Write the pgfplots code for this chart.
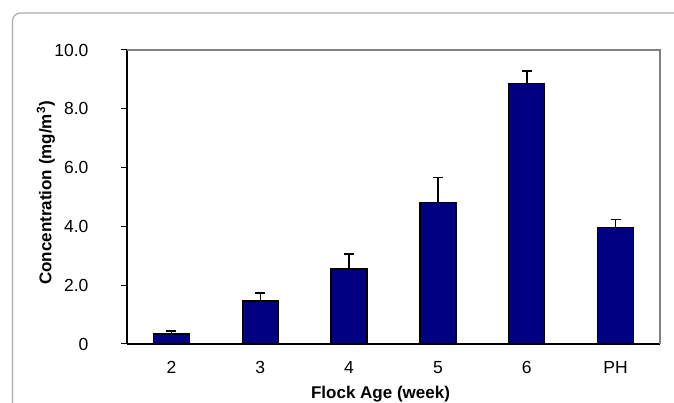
\documentclass[border=0pt]{standalone}
\usepackage{pgfplots}
\pgfplotsset{compat=1.18}
\usepackage{fontspec}
\setmainfont{Liberation Sans}
\definecolor{barnavy}{RGB}{0,0,128}
\definecolor{framegray}{RGB}{170,170,170}
\definecolor{boxgray}{RGB}{128,128,128}
\begin{document}
\begin{tikzpicture}[x=1pt,y=1pt]
\useasboundingbox (0,0) rectangle (674,403);
\begin{scope}
\clip (0,0) rectangle (674,403);
\draw[framegray, line width=1.2pt, rounded corners=8pt] (12.5,-20) -- (12.5,390) -- (700,390);
\end{scope}
\begin{axis}[
  at={(127pt,59pt)}, anchor=south west,
  width=533pt, height=294pt, scale only axis,
  xmin=-0.5, xmax=5.5, ymin=0, ymax=10,
  axis lines*=left,
  axis line style={black, line width=1.2pt},
  ybar, bar width=36pt,
  xtick={0,1,2,3,4,5},
  xticklabels={2,3,4,5,6,PH},
  x tick style={draw=none},
  extra x ticks={-0.5,0.5,1.5,2.5,3.5,4.5,5.5},
  extra x tick labels={},
  extra x tick style={tick style={draw=black, line width=1pt}, major tick length=6pt, tick align=outside},
  ytick={0,2,4,6,8,10},
  yticklabels={0,2.0,4.0,6.0,8.0,10.0},
  y tick style={black, line width=1pt},
  major tick length=6pt, tick align=outside,
  tick label style={font=\fontsize{17.5}{21}\selectfont},
  /pgf/number format/assume math mode=true,
  yticklabel style={xshift=-29pt},
  xticklabel style={yshift=-8pt},
  xlabel={\bfseries Flock Age (week)},
  ylabel={\bfseries Concentration (mg/m\textsuperscript{3})},
  label style={font=\fontsize{17}{20}\selectfont\bfseries},
  xlabel style={at={(axis description cs:0.5,0)}, anchor=center, yshift=-50pt, xshift=-13pt},
  ylabel style={at={(axis description cs:0,0.5)}, anchor=center, xshift=4pt, yshift=81pt},
  clip=false,
]
\addplot[fill=barnavy, draw=black, line width=1.2pt,
  error bars/.cd, y dir=plus, y explicit,
  error bar style={black, line width=1.5pt},
  error mark options={rotate=90, mark size=5pt, line width=1.5pt}]
  coordinates {
  (0,0.34) +- (0,0.10)
  (1,1.46) +- (0,0.28)
  (2,2.55) +- (0,0.51)
  (3,4.81) +- (0,0.85)
  (4,8.87) +- (0,0.42)
  (5,3.96) +- (0,0.28)
  };
\draw[boxgray, line width=1.5pt] (rel axis cs:0,1) -- (rel axis cs:1,1) -- (rel axis cs:1,0);
\end{axis}
\end{tikzpicture}
\end{document}
